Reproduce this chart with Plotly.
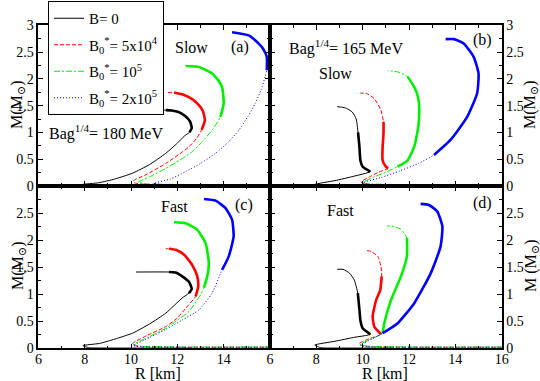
import plotly.graph_objects as go

# mass-radius curves, R in km, M in solar masses
# each curve runs from the low-mass tail up to the maximum-mass end;
# *_thick gives the (first, last) index of the stable branch drawn bold

# (a) Bag^1/4 = 180 MeV, slow
a_b0_r = [12.8, 10.0, 8.2, 7.92, 8.6, 9.3, 10.07, 10.8, 11.5, 12.0, 12.3, 12.52, 12.62, 12.55, 12.35, 12.05, 11.75, 11.5, 10.2]
a_b0_m = [0.003, 0.004, 0.008, 0.03, 0.06, 0.13, 0.24, 0.40, 0.61, 0.80, 0.93, 1.0, 1.08, 1.2, 1.3, 1.38, 1.41, 1.415, 1.415]
a_b0_thick = (11, 17)
a_b1_r = [16, 12, 10.6, 10.15, 10.1, 10.6, 11.5, 12.1, 12.5, 12.85, 13.05, 13.19, 13.1, 12.88, 12.64, 12.21, 11.86, 11.57]
a_b1_m = [0.02, 0.02, 0.03, 0.06, 0.1, 0.2, 0.42, 0.6, 0.73, 0.9, 1.05, 1.23, 1.4, 1.53, 1.62, 1.71, 1.745, 1.745]
a_b1_thick = (10, 16)
a_b2_r = [16, 12, 10.7, 10.3, 10.8, 11.5, 12.1, 12.64, 13.1, 13.5, 13.86, 14.0, 13.93, 13.75, 13.5, 12.93, 12.36]
a_b2_m = [0.025, 0.03, 0.04, 0.07, 0.17, 0.33, 0.48, 0.64, 0.84, 1.04, 1.29, 1.54, 1.85, 1.98, 2.10, 2.22, 2.24]
a_b2_thick = (10, 16)
a_b3_r = [16, 12, 11.3, 11.0, 11.7, 12.36, 13.0, 13.65, 14.2, 14.65, 15.05, 15.36, 15.62, 15.79, 15.86, 15.86, 15.7, 15.5, 15.08, 14.36]
a_b3_m = [0.02, 0.025, 0.03, 0.05, 0.13, 0.27, 0.42, 0.61, 0.82, 1.04, 1.3, 1.54, 1.8, 2.04, 2.16, 2.41, 2.56, 2.66, 2.81, 2.87]
a_b3_thick = (14, 19)

# (b) Bag^1/4 = 165 MeV, slow
b_b0_r = [11.3, 9.0, 8.2, 7.93, 8.8, 9.6, 10.33, 10.0, 9.9, 9.86, 9.8, 9.72, 9.55, 9.3, 9.1, 8.9]
b_b0_m = [0.003, 0.005, 0.01, 0.03, 0.1, 0.18, 0.27, 0.36, 0.48, 0.73, 1.0, 1.25, 1.38, 1.45, 1.47, 1.48]
b_b0_thick = (6, 10)
b_b1_r = [16, 12, 10.3, 10.0, 9.93, 10.3, 10.7, 11.1, 11.0, 10.86, 10.86, 10.9, 10.9, 10.85, 10.79, 10.5, 10.15, 9.9]
b_b1_m = [0.02, 0.02, 0.03, 0.05, 0.08, 0.17, 0.26, 0.33, 0.36, 0.48, 0.73, 0.98, 1.2, 1.3, 1.415, 1.63, 1.73, 1.73]
b_b1_thick = (7, 12)
b_b2_r = [16, 12, 10.3, 9.96, 10.5, 11.0, 11.5, 11.94, 12.22, 12.35, 12.43, 12.43, 12.35, 12.22, 11.94, 11.5, 11.08]
b_b2_m = [0.025, 0.025, 0.04, 0.06, 0.17, 0.26, 0.36, 0.48, 0.73, 0.98, 1.23, 1.54, 1.72, 1.85, 2.04, 2.13, 2.15]
b_b2_thick = (6, 14)
b_b3_r = [16, 12, 10.3, 10.0, 10.8, 11.6, 12.4, 13.08, 13.79, 14.51, 14.94, 15.0, 14.79, 14.36, 13.94, 13.58]
b_b3_m = [0.02, 0.02, 0.03, 0.06, 0.16, 0.28, 0.42, 0.58, 0.86, 1.29, 1.73, 2.1, 2.41, 2.66, 2.74, 2.74]
b_b3_thick = (7, 15)

# (c) Bag^1/4 = 180 MeV, fast
c_b0_r = [12.6, 9.0, 8.2, 7.92, 8.64, 9.3, 10.07, 10.8, 11.5, 12.21, 12.5, 12.62, 12.5, 12.21, 11.93, 11.64, 10.21]
c_b0_m = [0.003, 0.005, 0.01, 0.05, 0.09, 0.17, 0.28, 0.45, 0.65, 0.93, 1.02, 1.1, 1.23, 1.33, 1.4, 1.41, 1.41]
c_b0_thick = (10, 15)
c_b1_r = [16, 12, 10.4, 10.1, 10.07, 10.7, 11.5, 12.0, 12.36, 12.79, 12.9, 12.86, 12.64, 12.29, 11.93, 11.64, 11.5]
c_b1_m = [0.02, 0.02, 0.03, 0.06, 0.09, 0.24, 0.4, 0.56, 0.74, 0.96, 1.14, 1.33, 1.54, 1.73, 1.82, 1.84, 1.84]
c_b1_thick = (9, 15)
c_b2_r = [16, 12, 10.4, 10.1, 10.7, 11.5, 12.0, 12.5, 13.0, 13.15, 13.29, 13.36, 13.22, 12.86, 12.36, 11.86]
c_b2_m = [0.025, 0.025, 0.04, 0.07, 0.2, 0.37, 0.52, 0.68, 0.99, 1.12, 1.33, 1.57, 1.94, 2.19, 2.31, 2.33]
c_b2_thick = (9, 15)
c_b3_r = [16, 12, 10.4, 10.1, 10.8, 11.5, 12.2, 12.93, 13.5, 13.93, 14.22, 14.43, 14.36, 14.08, 13.65, 13.15]
c_b3_m = [0.02, 0.02, 0.03, 0.05, 0.2, 0.35, 0.52, 0.71, 1.02, 1.45, 1.7, 2.07, 2.38, 2.59, 2.73, 2.76]
c_b3_thick = (9, 15)

# (d) Bag^1/4 = 165 MeV, fast
d_b0_r = [11.3, 9.0, 8.2, 7.93, 8.8, 9.6, 10.33, 10.0, 9.9, 9.86, 9.79, 9.64, 9.43, 9.15, 8.9]
d_b0_m = [0.003, 0.005, 0.01, 0.06, 0.13, 0.2, 0.26, 0.37, 0.52, 0.71, 1.02, 1.26, 1.39, 1.46, 1.46]
d_b0_thick = (6, 10)
d_b1_r = [16, 12, 10.2, 9.9, 9.86, 10.3, 10.79, 10.5, 10.43, 10.58, 10.76, 10.82, 10.79, 10.65, 10.36, 10.1]
d_b1_m = [0.02, 0.02, 0.03, 0.06, 0.09, 0.18, 0.26, 0.4, 0.59, 0.89, 1.08, 1.33, 1.51, 1.7, 1.79, 1.81]
d_b1_thick = (6, 11)
d_b2_r = [16, 12, 10.2, 9.9, 10.4, 10.86, 10.93, 11.22, 11.65, 11.91, 11.91, 11.65, 11.36, 11.05]
d_b2_m = [0.025, 0.025, 0.04, 0.07, 0.18, 0.28, 0.46, 0.89, 1.33, 1.7, 2.04, 2.2, 2.25, 2.26]
d_b2_thick = (5, 10)
d_b3_r = [16, 12, 10.2, 9.9, 10.4, 10.86, 11.5, 12.22, 12.94, 13.36, 13.44, 13.22, 12.86, 12.5]
d_b3_m = [0.02, 0.02, 0.03, 0.06, 0.17, 0.28, 0.46, 0.83, 1.39, 1.88, 2.25, 2.53, 2.65, 2.67]
d_b3_thick = (5, 13)

legend_names = ["B= 0",
                "B<sub>0</sub><sup>*</sup>= 5x10<sup>4</sup>",
                "B<sub>0</sub><sup>*</sup>= 10<sup>5</sup>",
                "B<sub>0</sub><sup>*</sup>= 2x10<sup>5</sup>"]
colors = ["#000000", "#ff0000", "#00ee00", "#0000ff"]
dashes = ["solid", "4px,2px", "6px,2px,2px,2px", "1px,2px"]

panels = {
    "a": ("x", "y", [(a_b0_r, a_b0_m, a_b0_thick), (a_b1_r, a_b1_m, a_b1_thick),
                     (a_b2_r, a_b2_m, a_b2_thick), (a_b3_r, a_b3_m, a_b3_thick)]),
    "b": ("x2", "y2", [(b_b0_r, b_b0_m, b_b0_thick), (b_b1_r, b_b1_m, b_b1_thick),
                       (b_b2_r, b_b2_m, b_b2_thick), (b_b3_r, b_b3_m, b_b3_thick)]),
    "c": ("x3", "y3", [(c_b0_r, c_b0_m, c_b0_thick), (c_b1_r, c_b1_m, c_b1_thick),
                       (c_b2_r, c_b2_m, c_b2_thick), (c_b3_r, c_b3_m, c_b3_thick)]),
    "d": ("x4", "y4", [(d_b0_r, d_b0_m, d_b0_thick), (d_b1_r, d_b1_m, d_b1_thick),
                       (d_b2_r, d_b2_m, d_b2_thick), (d_b3_r, d_b3_m, d_b3_thick)]),
}

FONT = "Liberation Serif, DejaVu Serif, serif"

fig = go.Figure()
for key, (xa, ya, curves) in panels.items():
    for i, (r, m, (i0, i1)) in enumerate(curves):
        # whole curve, thin, legend style
        fig.add_trace(go.Scatter(x=r, y=m, xaxis=xa, yaxis=ya, mode="lines",
                                 line=dict(color=colors[i], width=1, dash=dashes[i],
                                           shape="spline", smoothing=0.5),
                                 name=legend_names[i], legendgroup=str(i),
                                 showlegend=(key == "a"), hoverinfo="skip"))
        # stable branch, bold
        fig.add_trace(go.Scatter(x=r[i0:i1 + 1], y=m[i0:i1 + 1], xaxis=xa, yaxis=ya,
                                 mode="lines",
                                 line=dict(color=colors[i], width=2.6,
                                           shape="spline", smoothing=0.5),
                                 legendgroup=str(i), showlegend=False, hoverinfo="skip"))

xl = [38.4 / 540, 0.5]
xr = [0.5, 501.7 / 540]
yt = [(381 - 186) / 381, (381 - 25.2) / 381]
yb = [(381 - 348.3) / 381, (381 - 186) / 381]

tickfont = dict(family=FONT, size=14, color="black")
minor_x = dict(ticks="inside", dtick=1, ticklen=3, tickcolor="black")
minor_y = dict(ticks="inside", dtick=0.25, ticklen=3, tickcolor="black")


def xaxis(domain, anchor, labels):
    return dict(domain=domain, anchor=anchor, range=[6, 16], showgrid=False, zeroline=False,
                showline=True, linecolor="black", linewidth=1.5, mirror="allticks",
                ticks="inside", ticklen=5, tickcolor="black", tickwidth=1,
                tickvals=[6, 8, 10, 12, 14, 16], ticktext=labels, showticklabels=True,
                tickfont=tickfont, minor=minor_x, automargin=False, ticklabelstandoff=-3)


def yaxis(domain, anchor, side, vals):
    return dict(domain=domain, anchor=anchor, range=[0, 3], side=side, showgrid=False,
                zeroline=False, showline=True, linecolor="black", linewidth=1.5,
                mirror="allticks", ticks="inside", ticklen=5, tickcolor="black",
                tickwidth=1, tickvals=vals, ticktext=[f"{v:g}" for v in vals],
                tickfont=tickfont, minor=minor_y, automargin=False)


no_x = ["", "", "", "", "", ""]
top_y = [0, 0.5, 1, 1.5, 2, 2.5, 3]
bot_y = [0, 0.5, 1, 1.5, 2, 2.5]

fig.update_layout(
    width=540, height=381,
    margin=dict(l=0, r=0, t=0, b=0, autoexpand=False),
    paper_bgcolor="white", plot_bgcolor="white",
    font=dict(family=FONT, size=15, color="black"),
    xaxis=xaxis(xl, "y", no_x),
    yaxis=yaxis(yt, "x", "left", top_y),
    xaxis2=xaxis(xr, "y2", no_x),
    yaxis2=yaxis(yt, "x2", "right", top_y),
    xaxis3=xaxis(xl, "y3", ["6", "8", "10", "12", "14", ""]),
    yaxis3=yaxis(yb, "x3", "left", bot_y),
    xaxis4=xaxis(xr, "y4", ["6", "8", "10", "12", "14", "16"]),
    yaxis4=yaxis(yb, "x4", "right", bot_y),
    legend=dict(x=48 / 540, y=1 - 1 / 381, xanchor="left", yanchor="top",
                bgcolor="white", bordercolor="black", borderwidth=1,
                font=dict(family=FONT, size=15), tracegroupgap=4),
    showlegend=True,
)

# panel labels and notes
notes = [
    ("x", "y", 14.72, 2.59, "(a)"),
    ("x", "y", 12.63, 2.59, "Slow"),
    ("x", "y", 8.93, 0.99, "Bag<sup>1/4</sup>= 180 MeV"),
    ("x2", "y2", 15.15, 2.72, "(b)"),
    ("x2", "y2", 9.29, 2.59, "Bag<sup>1/4</sup>= 165 MeV"),
    ("x2", "y2", 8.82, 2.09, "Slow"),
    ("x3", "y3", 14.86, 2.65, "(c)"),
    ("x3", "y3", 11.89, 2.62, "Fast"),
    ("x4", "y4", 15.15, 2.69, "(d)"),
    ("x4", "y4", 9.04, 2.55, "Fast"),
]
for xr_, yr_, x, y, t in notes:
    fig.add_annotation(x=x, y=y, xref=xr_, yref=yr_, text=t, showarrow=False,
                       xanchor="center", yanchor="middle",
                       font=dict(family=FONT, size=16, color="black"))

# axis titles
for x, y, t in [(18, 105, "M(M<sub>⊙</sub>)"), (18, 266, "M(M<sub>⊙</sub>)"),
                (531, 105, "M(M<sub>⊙</sub>)"), (531, 266, "M (M<sub>⊙</sub>)")]:
    fig.add_annotation(x=x / 540, y=1 - y / 381, xref="paper", yref="paper", text=t,
                       textangle=-90, showarrow=False, xanchor="center", yanchor="middle",
                       font=dict(family=FONT, size=16, color="black"))
for x in [158, 385]:
    fig.add_annotation(x=x / 540, y=1 - 373.5 / 381, xref="paper", yref="paper",
                       text="R [km]", showarrow=False, xanchor="center", yanchor="middle",
                       font=dict(family=FONT, size=16, color="black"))

# page body has a default margin that would push the figure off the window
fig.write_html("out.html", config={"displayModeBar": False},
               post_script="document.body.style.margin='0px';")
